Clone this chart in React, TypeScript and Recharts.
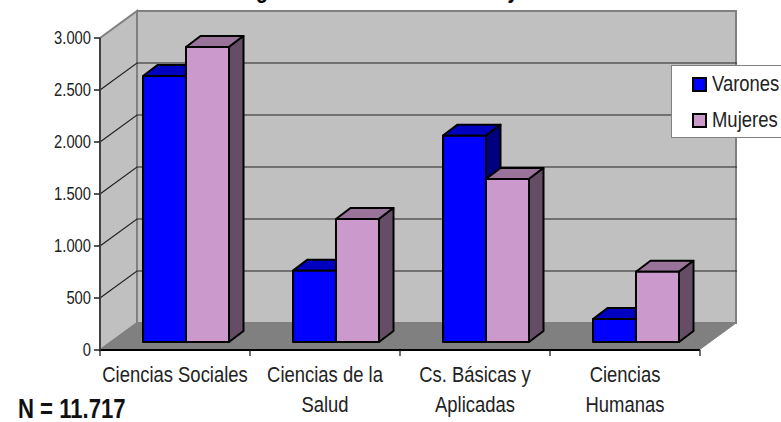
import { Bar, BarChart, CartesianGrid, Legend, XAxis, YAxis } from 'recharts';

const categories = ['Ciencias Sociales', 'Ciencias de la Salud', 'Cs. Básicas y Aplicadas', 'Ciencias Humanas'];
const categoryLines = [['Ciencias Sociales'], ['Ciencias de la', 'Salud'], ['Cs. Básicas y', 'Aplicadas'], ['Ciencias', 'Humanas']];
const varones = [2558, 686, 1984, 221];
const mujeres = [2836, 1183, 1567, 676];
const yTicks = [0, 500, 1000, 1500, 2000, 2500, 3000];
const yTickLabels = ['0', '500', '1.000', '1.500', '2.000', '2.500', '3.000'];

const data = categories.map((name, i) => ({ name, Varones: varones[i], Mujeres: mujeres[i] }));

const FONT = '"Liberation Sans", Arial, sans-serif';
const TEXT = '#222';
const SQUEEZE = 0.82; // no Arial Narrow here, so squeeze Liberation Sans
// depth of the fake 3D box, and of the bars inside it
const WALL_DX = 37;
const WALL_DY = 27;
const BAR_DX = 11;
const BAR_DY = 8;
const BAR_DEPTH_X = 14.5;
const BAR_DEPTH_Y = 11;

function NarrowText({ x, y, size, anchor = 'start', weight = 'normal', fill = TEXT, children }: any) {
  return (
    <text
      transform={`translate(${x},${y}) scale(${SQUEEZE},1)`}
      textAnchor={anchor}
      fontFamily={FONT}
      fontSize={size}
      fontWeight={weight}
      fill={fill}
    >
      {children}
    </text>
  );
}

function Walls() {
  return (
    <g>
      <polygon points="137,11 736,11 736,323 137,323" fill="#c0c0c0" stroke="#808080" strokeWidth={2} />
      <polygon points="100,38 137,11 137,323 100,350" fill="#c0c0c0" stroke="#808080" strokeWidth={2} />
      <polygon points="100,350 137,323 736,323 699,350" fill="#808080" stroke="#808080" />
    </g>
  );
}

function GridLine(props: any) {
  const { x1, x2, y1 } = props;
  if (y1 > 345 || y1 < 42) return <g key={props.key} />;
  return (
    <polyline
      key={props.key}
      points={`${x1},${y1} ${x1 + WALL_DX},${y1 - WALL_DY} ${x2 + WALL_DX},${y1 - WALL_DY}`}
      fill="none"
      stroke="#222"
      strokeWidth={1.2}
    />
  );
}

function makeBar(front: string, top: string, side: string) {
  return function Bar3D(props: any) {
    const x = props.x + BAR_DX;
    const w = props.width;
    const y = props.y - BAR_DY;
    const b = y + props.height;
    const dx = BAR_DEPTH_X;
    const dy = BAR_DEPTH_Y;
    return (
      <g stroke="#000" strokeWidth={2} strokeLinejoin="round">
        <polygon points={`${x},${y} ${x + dx},${y - dy} ${x + w + dx},${y - dy} ${x + w},${y}`} fill={top} />
        <polygon points={`${x + w},${y} ${x + w + dx},${y - dy} ${x + w + dx},${b - dy} ${x + w},${b}`} fill={side} />
        <rect x={x} y={y} width={w} height={props.height} fill={front} />
      </g>
    );
  };
}

function CategoryTick(props: any) {
  const { x, index } = props;
  const half = 75;
  const lines = categoryLines[index] ?? [];
  return (
    <g>
      <line x1={x - half} x2={x - half} y1={350} y2={356} stroke="#222" strokeWidth={1.3} />
      {index === categories.length - 1 && (
        <line x1={x + half} x2={x + half} y1={350} y2={356} stroke="#222" strokeWidth={1.3} />
      )}
      {lines.map((line: string, i: number) => (
        <NarrowText key={line} x={x} y={382 + i * 30} size={22.5} anchor="middle">
          {line}
        </NarrowText>
      ))}
    </g>
  );
}

function ValueTick(props: any) {
  return (
    <NarrowText x={91} y={props.y + 6} size={18} anchor="end">
      {yTickLabels[yTicks.indexOf(props.payload.value)]}
    </NarrowText>
  );
}

function LegendBox(props: any) {
  return (
    <div
      style={{
        width: 120,
        height: 73,
        boxSizing: 'border-box',
        background: '#fff',
        border: '1.5px solid #808080',
        position: 'relative',
        fontFamily: FONT,
        fontSize: 22.5,
        lineHeight: '24px',
        color: TEXT,
      }}
    >
      {props.payload.map((entry: any, i: number) => (
        <div key={entry.value} style={{ position: 'absolute', left: 20, top: 6 + i * 36, height: 24, whiteSpace: 'nowrap' }}>
          <span
            style={{
              position: 'absolute',
              left: 0,
              top: 5,
              width: 15,
              height: 15,
              boxSizing: 'border-box',
              background: entry.color,
              border: '2px solid #000',
            }}
          />
          <span style={{ position: 'absolute', left: 20, top: 0, transform: `scaleX(${SQUEEZE})`, transformOrigin: 'left' }}>
            {entry.value}
          </span>
        </div>
      ))}
    </div>
  );
}

export default function App() {
  return (
    <div style={{ position: 'absolute', left: 0, top: 0, width: 781, height: 422, overflow: 'hidden' }}>
      <BarChart
        width={781}
        height={422}
        data={data}
        margin={{ top: 38, right: 81, bottom: 0, left: 0 }}
        barCategoryGap={32}
        barGap={0}
      >
        <Walls />
        <CartesianGrid horizontal={GridLine} vertical={false} stroke="#222" zIndex={1} />
        <XAxis
          dataKey="name"
          height={72}
          interval={0}
          tickLine={false}
          axisLine={{ stroke: '#000', strokeWidth: 2 }}
          tick={CategoryTick}
        />
        <YAxis
          width={100}
          domain={[0, 3000]}
          ticks={yTicks}
          interval={0}
          tickSize={6}
          axisLine={{ stroke: '#404040', strokeWidth: 2 }}
          tickLine={{ stroke: '#222', strokeWidth: 1.5 }}
          tick={ValueTick}
        />
        <Bar dataKey="Varones" fill="#0000ff" isAnimationActive={false} shape={makeBar('#0000ff', '#0000c0', '#000080')} />
        <Bar dataKey="Mujeres" fill="#cc99cc" isAnimationActive={false} shape={makeBar('#cc99cc', '#997399', '#664d66')} />
        <Legend
          layout="vertical"
          align="center"
          verticalAlign="middle"
          itemSorter={null}
          wrapperStyle={{ left: 671, top: 65, width: 120, right: 'auto', bottom: 'auto' }}
          content={LegendBox}
        />
        {/* only the descenders of the title survive the crop at the top of the picture */}
        <NarrowText x={262} y={-2} size={24} anchor="middle" weight="bold" fill="#000">g</NarrowText>
        <NarrowText x={513} y={-2} size={24} anchor="middle" weight="bold" fill="#000">y</NarrowText>
        <NarrowText x={18} y={418} size={27} weight="bold" fill="#111">N = 11.717</NarrowText>
      </BarChart>
    </div>
  );
}
